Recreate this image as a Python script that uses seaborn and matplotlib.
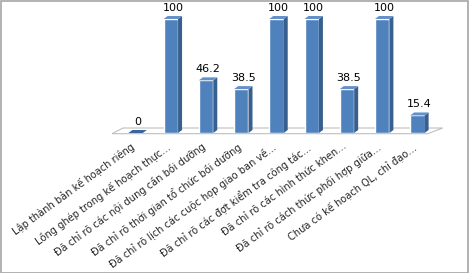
import matplotlib
matplotlib.use("Agg")
import matplotlib.pyplot as plt
import matplotlib.transforms as mtrans
import seaborn as sns
import pandas as pd
from matplotlib.patches import Polygon, Rectangle

categories = [
    "Lập thành bản kế hoạch riêng",
    "Lồng ghép trong kế hoạch thực…",
    "Đã chỉ rõ các nội dung cần bồi dưỡng",
    "Đã chỉ rõ thời gian tổ chức bồi dưỡng",
    "Đã chỉ rõ lịch các cuộc họp giao ban về…",
    "Đã chỉ rõ các đợt kiểm tra công tác…",
    "Đã chỉ rõ các hình thức khen…",
    "Đã chỉ rõ cách thức phối hợp giữa…",
    "Chưa có kế hoạch QL, chỉ đạo…",
]
values = [0, 100, 46.2, 38.5, 100, 100, 38.5, 100, 15.4]
value_labels = ["0", "100", "46.2", "38.5", "100", "100", "38.5", "100", "15.4"]

sns.set_style("white")
plt.rcParams["font.family"] = ["DejaVu Sans"]

W, H = 469, 273
fig = plt.figure(figsize=(W / 100, H / 100), dpi=100)
ax_left, ax_w = 118 / W, 317 / W
ax_bot, ax_h = (H - 133) / H, 125.4 / H
ax = fig.add_axes([ax_left, ax_bot, ax_w, ax_h])

df = pd.DataFrame({"cat": categories, "val": values})
sns.barplot(data=df, x="cat", y="val", color="#4f81bd", width=0.41,
            saturation=1, ax=ax, zorder=3)
ax.set_xlim(-0.5, 8.5)
ax.set_ylim(0, 110)

px_x = (ax_w * W) / 9.0
px_y = (ax_h * H) / 110.0
ddx = 4.0 / px_x
ddy = 3.0 / px_y

# floor
fl = Polygon([(-0.67, -0.6), (8.72 - 15 / px_x, -0.6), (8.72, 5 / px_y), (-0.67 + 11 / px_x, 5 / px_y)],
             closed=True, facecolor="white", edgecolor="#bfbfbf", lw=0.8,
             zorder=1, clip_on=False)
ax.add_patch(fl)

for p, lab in zip(list(ax.patches)[:len(values)], value_labels):
    x0 = p.get_x()
    w = p.get_width()
    h = p.get_height()
    x1 = x0 + w
    side = Polygon([(x1, 0), (x1 + ddx, ddy), (x1 + ddx, h + ddy), (x1, h)],
                   closed=True, facecolor="#38608f", edgecolor="none", zorder=3)
    top = Polygon([(x0, h), (x1, h), (x1 + ddx, h + ddy), (x0 + ddx, h + ddy)],
                  closed=True, facecolor="#6690c8" if h > 0 else "#3a66a0",
                  edgecolor="none", zorder=3)
    ax.add_patch(side)
    ax.add_patch(top)
    ax.annotate(lab, (x0 + w / 2 + ddx / 2, h + ddy), xytext=(0, 2.5),
                textcoords="offset points", ha="center", va="bottom",
                fontsize=8, color="#000000")

for s in ax.spines.values():
    s.set_visible(False)
ax.set_yticks([])
ax.set_xlabel("")
ax.set_ylabel("")
ax.set_xticks(range(len(categories)))
ax.set_xticklabels(categories, rotation=36, ha="right", va="top",
                   rotation_mode="anchor", fontsize=7.1)
ax.tick_params(axis="x", length=0, pad=6)
shift = mtrans.ScaledTranslation(-5 / 100, 0, fig.dpi_scale_trans)
for t in ax.get_xticklabels():
    t.set_transform(t.get_transform() + shift)
ax.patch.set_alpha(0)

fig.patches.append(Rectangle((0.5 / W, 0.5 / H), 1 - 1.5 / W, 1 - 1.5 / H,
                             transform=fig.transFigure, fill=False,
                             edgecolor="#a6a6a6", lw=1.2))
fig.savefig("out.png", dpi=100)
